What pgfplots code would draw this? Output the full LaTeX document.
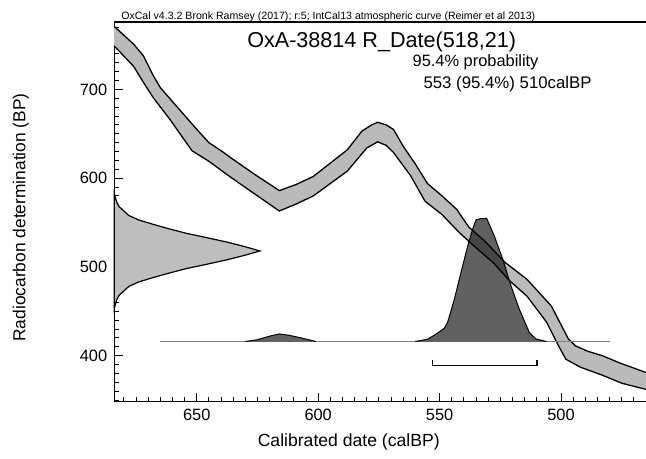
\documentclass[border=0pt]{standalone}
\usepackage{fontspec}
\setmainfont{Liberation Sans}
\usepackage{pgfplots}
\usepackage{pgfplotstable}
\usepgfplotslibrary{fillbetween}
\pgfplotsset{compat=1.18}

% IntCal13 band, upper and lower edge (cal BP, 14C BP)
\pgfplotstableread{
cal c14
684 771
678 756
676 751
672 738
668 716
665 702
658 680
650 655
645 640
640 631
636 623
626 604
616 586
609 593
602 602
595 617
588 632
582 653
578 660
575.5 663
572 660
569 655
565 636
560 616
555 594
549 580
543 565
538 545
531 528
523 505
514 486
504 456
497 419
494 411
489 405
483 400
476 392
465 381
}\curveup
\pgfplotstableread{
cal c14
684 749
676 726
672 708
668 691
661 666
652 631
645 619
636 601
626 582
616 563
609 571
602 580
595 594
588 608
580 634
575.5 641
572 637
569 629
562 603
556 574
549 559
542 539
536 524
528 505
521 484
514 467
506 438
501 411
498 396
492 387
483 378
475 369
465 362
}\curvelo

\definecolor{bandgray}{RGB}{186,186,186}
\definecolor{measgray}{RGB}{190,190,190}

\begin{document}
\begin{tikzpicture}
\begin{axis}[
    scale only axis,
    width=266pt, height=190pt,
    x dir=reverse,
    xmin=465, xmax=684,
    ymin=348, ymax=776,
    clip=false,
    axis x line*=box, axis y line*=left,
    xtick pos=left, ytick pos=left,
    xtick={500,550,600,650},
    ytick={400,500,600,700},
    minor xtick={470,475,...,680},
    minor ytick={350,360,...,770},
    tick align=inside,
    major tick length=4.5pt, minor tick length=2.2pt,
    every tick/.style={black, line width=0.5pt},
    axis line style={line width=0.6pt},
    /pgf/number format/assume math mode=true,
    ticklabel style={font=\fontsize{8.2}{9}\selectfont},
    xlabel={Calibrated date (calBP)},
    ylabel={Radiocarbon determination (BP)},
    xlabel style={font=\fontsize{8.8}{10}\selectfont, at={(axis description cs:0.441,-0.105)}, anchor=center},
    ylabel style={font=\fontsize{8.7}{10}\selectfont, at={(axis description cs:-0.1754,0.4855)}, anchor=center},
]
% calibration curve
\addplot[name path=up, draw=none, forget plot] table[x=cal, y=c14] {\curveup};
\addplot[name path=lo, draw=none, forget plot] table[x=cal, y=c14] {\curvelo};
\addplot[fill=bandgray, draw=none] fill between[of=up and lo];
\addplot[black, line width=0.65pt] table[x=cal, y=c14] {\curveup};
\addplot[black, line width=0.65pt] table[x=cal, y=c14] {\curvelo};

% measured radiocarbon date 518 +/- 21
\addplot[fill=measgray, draw=black, line width=0.6pt] coordinates {
(684,453) (683.5,458) (683,463) (682,468) (680,473) (678,478) (674,483) (668,488)
(661.5,493) (654.5,498) (645.9,503) (637.6,508) (630.4,513) (624,518)
(630.4,523) (637.6,528) (645.9,533) (654.5,538) (661.5,543) (668,548)
(674,553) (678,558) (680,563) (682,568) (683,573) (683.5,578) (684,583)
} -- cycle;

% calibrated distribution
\addplot[gray, line width=0.6pt] coordinates {(665,416) (480,416)};
\addplot[fill=black, fill opacity=0.62, draw=black, line width=0.5pt] coordinates {
(630,416) (625,418) (620,422) (616,424.5) (612,423) (607,420) (601,416)
};
\addplot[fill=black, fill opacity=0.62, draw=black, line width=0.5pt] coordinates {
(560,416) (555,418.5) (551.4,424.4) (548,431) (546.7,437.6) (543.9,463.8)
(541.2,493.8) (538.4,523.7) (536.4,542.5) (535,553) (533,554.5) (530.6,554.6)
(527.5,535) (524,508.8) (520.6,478.7) (517.2,452.5) (513.1,426.3) (510.3,418.8) (506,416)
};
% 95.4% range
\addplot[black, line width=0.8pt] coordinates {(553,395) (553,389) (510,389) (510,395)};

\node[anchor=base west, font=\fontsize{5.3}{6}\selectfont, yshift=1.2pt] at (axis description cs:0,1)
  {OxCal v4.3.2 Bronk Ramsey (2017); r:5; IntCal13 atmospheric curve (Reimer et al 2013)};
\node[anchor=base, font=\fontsize{10.8}{12}\selectfont] at (axis description cs:0.503,0.934)
  {OxA-38814 R\_Date(518,21)};
\node[anchor=base west, font=\fontsize{8.2}{9}\selectfont] at (axis description cs:0.548,0.884)
  {95.4\% probability};
\node[anchor=base west, font=\fontsize{8.4}{9}\selectfont] at (axis description cs:0.5684,0.826)
  {553 (95.4\%) 510calBP};

\coordinate (bbsw) at (axis description cs:-0.2148,-0.15);
\coordinate (bbne) at (axis description cs:1,1.0579);
\end{axis}
\pgfresetboundingbox
\path[use as bounding box] (bbsw) rectangle (bbne);
\end{tikzpicture}
\end{document}
